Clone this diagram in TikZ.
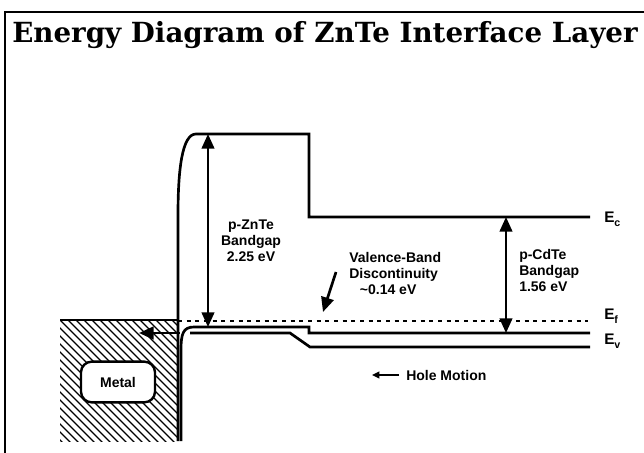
\documentclass[tikz,border=0pt]{standalone}
\usepackage{fontspec}
\setmainfont{Liberation Sans}
\newfontfamily\titlefont{DejaVu Serif}
\usetikzlibrary{arrows.meta}
\begin{document}
\begin{tikzpicture}[x=0.75pt,y=-0.75pt,
  band/.style={line width=2pt},
  lbl/.style={font=\bfseries\fontsize{10.5}{12}\selectfont, inner sep=0pt},
  elbl/.style={font=\bfseries\fontsize{11.5}{13}\selectfont, inner sep=0pt, anchor=west},
  bigarr/.style={line width=2pt, arrows={-Triangle[length=11pt,width=9.5pt]}},
  dblarr/.style={line width=1.6pt, arrows={Triangle[length=11pt,width=9.5pt]-Triangle[length=11pt,width=9.5pt]}},
  smallarr/.style={line width=1.2pt, arrows={-Triangle[length=5.5pt,width=5pt]}}]
\useasboundingbox (0,0) rectangle (644,453);
% frame
\draw[line width=1.1pt] (5,453) -- (5,12) -- (644,12);
% title
\node[inner sep=0pt] (title) at (325,35) {\resizebox{469pt}{!}{\titlefont\bfseries Energy Diagram of ZnTe Interface Layer}};
% metal hatch
\begin{scope}
\clip (60,320) rectangle (178,441);
\foreach \i in {-136,-128,...,120} \draw[line width=0.8pt] (60+\i,320) -- ++(130,130);
\end{scope}
\draw[line width=1pt] (60,320) -- (178,320);
\node[draw, line width=1.8pt, rounded corners=8pt, fill=white, minimum width=55.5pt, minimum height=30.5pt, lbl] (metal) at (118,382) {Metal};
% Fermi level
\draw[line width=1pt, dash pattern=on 3pt off 3.5pt] (178,321) -- (588,321);
% conduction band
\draw[band] (178,441) -- (178,215) .. controls (178,170) and (182,134) .. (196,134) -- (309,134) -- (309,217) -- (590,217);
% valence band
\draw[band] (181,441) -- (181,350) .. controls (181,334) and (183,327) .. (194,327) -- (309,327) -- (309,333) -- (590,333);
\draw[band] (190,333) -- (290,333) -- (310,347) -- (590,347);
% arrows
\coordinate (zt) at (208,134);
\coordinate (zb) at (208,327);
\draw[dblarr] (zt) -- (zb);
\coordinate (ct) at (506,217);
\coordinate (cb) at (506,333);
\draw[dblarr] (ct) -- (cb);
\coordinate (ds) at (336,272);
\coordinate (de) at (323,312);
\draw[bigarr] (ds) -- (de);
\coordinate (ms) at (180,333);
\coordinate (me) at (139,333);
\draw[bigarr] (ms) -- (me);
% labels
\node[lbl, align=center] (zlab) at (251,241) {p-ZnTe\\Bandgap\\2.25 eV};
\node[lbl, align=left, anchor=west] (clab) at (519,270) {p-CdTe\\Bandgap\\1.56 eV};
\node[lbl, align=left, anchor=west] (vlab) at (349,273) {Valence-Band\\Discontinuity\\\hspace*{8pt}\textasciitilde0.14 eV};
\node[elbl] (ec) at (604,219) {E\raisebox{-3pt}{\fontsize{8}{9}\selectfont c}};
\node[elbl] (ef) at (604,316) {E\raisebox{-3pt}{\fontsize{8}{9}\selectfont f}};
\node[elbl] (ev) at (604,341) {E\raisebox{-3pt}{\fontsize{8}{9}\selectfont v}};
\node[lbl, anchor=west] (hole) at (406,375) {Hole Motion};
\coordinate (hs) at (399,375);
\coordinate (he) at (372,375);
\draw[smallarr] (hs) -- (he);
\end{tikzpicture}
\end{document}
